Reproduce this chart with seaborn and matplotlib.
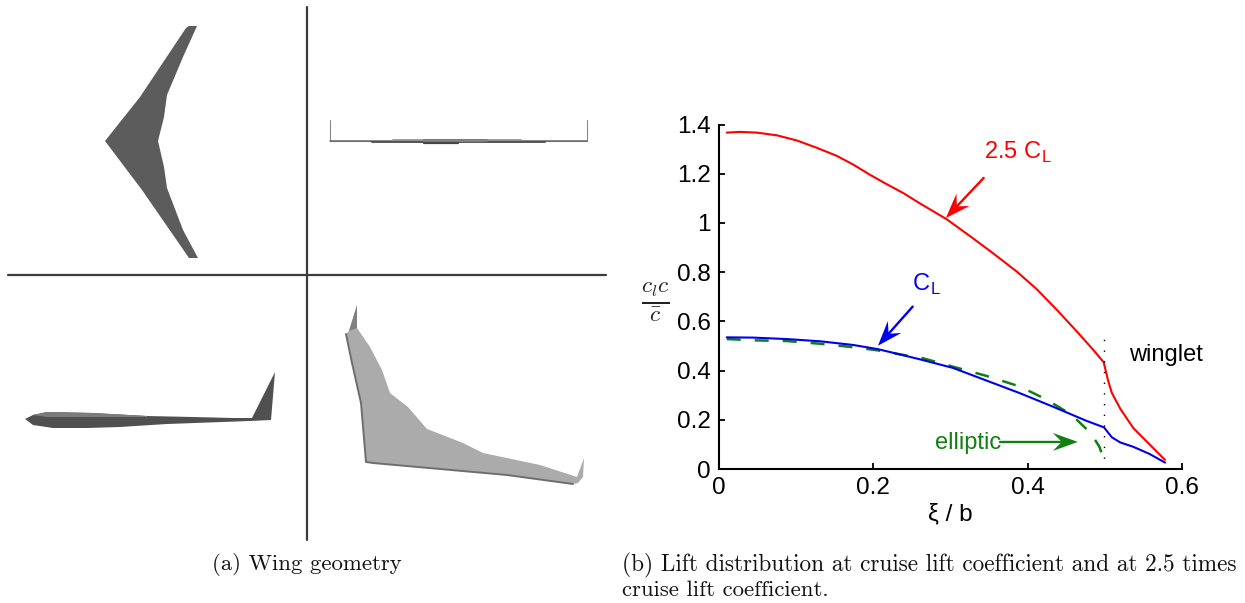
"""Wing geometry views and lift distribution along the span."""
import matplotlib
matplotlib.use("Agg")
import matplotlib.pyplot as plt
from matplotlib.transforms import IdentityTransform
import numpy as np
import pandas as pd
import seaborn as sns

W, H = 1245, 603

# lift distribution
xi_high = [0.010, 0.027, 0.049, 0.075, 0.101, 0.127, 0.153, 0.174, 0.196, 0.217, 0.239,
           0.260, 0.295, 0.325, 0.355, 0.386, 0.412, 0.438, 0.464, 0.485, 0.4985,
           0.504, 0.509, 0.520, 0.537, 0.578]
cl_high = [1.367, 1.370, 1.367, 1.356, 1.335, 1.305, 1.272, 1.237, 1.195, 1.158, 1.121,
           1.080, 1.015, 0.947, 0.877, 0.802, 0.730, 0.646, 0.558, 0.484, 0.434,
           0.362, 0.310, 0.245, 0.166, 0.037]
xi_cruise = [0.010, 0.044, 0.088, 0.131, 0.174, 0.206, 0.230, 0.260, 0.303, 0.347,
             0.390, 0.433, 0.476, 0.499, 0.509, 0.520, 0.537, 0.558, 0.578]
cl_cruise = [0.535, 0.534, 0.528, 0.519, 0.504, 0.487, 0.469, 0.446, 0.411, 0.359,
             0.308, 0.253, 0.196, 0.169, 0.129, 0.108, 0.090, 0.061, 0.026]
xi_ellip = [0.010, 0.044, 0.088, 0.131, 0.174, 0.206, 0.247, 0.260, 0.303, 0.347,
            0.390, 0.424, 0.457, 0.482, 0.493, 0.4985]
cl_ellip = [0.528, 0.523, 0.520, 0.509, 0.495, 0.482, 0.459, 0.454, 0.416, 0.378,
            0.335, 0.283, 0.220, 0.145, 0.090, 0.039]
xi_winglet = [0.4985, 0.4985]
cl_winglet = [0.0, 0.565]

x_ticks = [0, 0.2, 0.4, 0.6]
y_ticks = [0, 0.2, 0.4, 0.6, 0.8, 1, 1.2, 1.4]
tick_names_x = ["0", "0.2", "0.4", "0.6"]
tick_names_y = ["0", "0.2", "0.4", "0.6", "0.8", "1", "1.2", "1.4"]

# wing outlines, in picture pixels
plan_x = [105, 140, 186, 189, 197, 183, 167, 164, 158, 164, 167, 183, 198, 189, 142]
plan_y = [141, 97, 28, 26, 26, 57, 95, 117, 141, 167, 188, 230, 258, 258, 190]
side_x = [25, 33, 47, 93, 147, 193, 233, 252, 275, 271, 250, 167, 120, 87, 53, 33]
side_y = [419, 415, 412, 413, 416, 417, 418, 418, 372, 420, 421, 424, 427, 428, 428, 425]
side_top_x = [33, 47, 93, 147, 147, 93, 47]
side_top_y = [415, 412, 413, 416, 417, 417, 417]
iso_x = [357, 349, 346, 352, 361, 366, 373, 440, 507, 573, 578, 583, 584, 577, 540,
         483, 463, 427, 408, 390, 382, 370, 357]
iso_y = [305, 331, 334, 363, 403, 462, 463, 469, 475, 484, 483, 477, 458, 477, 465,
         453, 443, 429, 407, 393, 370, 347, 328]
iso_tip_x = [357, 349, 357]
iso_tip_y = [305, 331, 328]
iso_edge_x = [346, 352, 361, 366, 373, 440, 507, 573]
iso_edge_y = [334, 363, 403, 462, 463, 469, 475, 484]
front_x = [330, 330, 587, 587]
front_y = [120, 141, 141, 120]


def swept_arrow(ax, tip, tail, color):
    """Line with a swept-back head, sized in pixels like the original."""
    tip_px = ax.transData.transform(tip)
    tail_px = ax.transData.transform(tail)
    along = (tail_px - tip_px) / np.linalg.norm(tail_px - tip_px)
    across = np.array([-along[1], along[0]])
    notch = tip_px + along * 16
    head = [tip_px, tip_px + along * 25 + across * 9, notch, tip_px + along * 25 - across * 9]
    xs, ys = zip(*head)
    ax.fill(xs, ys, color=color, lw=0, transform=IdentityTransform(), zorder=4)
    ax.plot([notch[0], tail_px[0]], [notch[1], tail_px[1]], color=color, lw=1.7,
            transform=IdentityTransform(), zorder=4)


sns.set_theme(style="ticks")
plt.rcParams["font.family"] = ["Liberation Sans", "DejaVu Sans"]
plt.rcParams["mathtext.fontset"] = "cm"

fig = plt.figure(figsize=(W / 100, H / 100), dpi=100, facecolor="white")

# left panel drawn in pixel coordinates
geo = fig.add_axes([0, 0, 1, 1])
geo.set_xlim(0, W)
geo.set_ylim(H, 0)
geo.axis("off")

geo.plot([307, 307], [7, 540], color="#3c3c3c", lw=1.6)
geo.plot([8, 606], [275, 275], color="#3c3c3c", lw=1.6)

geo.fill(plan_x, plan_y, color="#5c5c5c", lw=0)
geo.fill(side_x, side_y, color="#505050", lw=0)
geo.fill(side_top_x, side_top_y, color="#7c7c7c", lw=0)
geo.fill(iso_x, iso_y, color="#ababab", lw=0)
geo.fill(iso_tip_x, iso_tip_y, color="#808080", lw=0)
geo.plot(iso_edge_x, iso_edge_y, color="#6e6e6e", lw=1.4)
geo.plot(front_x, front_y, color="#8a8a8a", lw=0.8)
geo.plot(front_x[1:3], front_y[1:3], color="#666666", lw=1.1)
geo.plot([372, 545], [142, 142], color="#555555", lw=1.4)
geo.plot([393, 521], [140, 140], color="#909090", lw=1.2)
geo.plot([424, 486], [139.5, 139.5], color="#808080", lw=2.2)
geo.plot([424, 458], [143, 143], color="#444444", lw=1.6)

caption = dict(family="cmr10", va="center", color="#111111")
geo.text(307, 565, "(a) Wing geometry", ha="center", fontsize=16.4, **caption)
geo.text(622, 565, "(b) Lift distribution at cruise lift coefficient and at 2.5 times",
         ha="left", fontsize=16.75, **caption)
geo.text(622, 590, "cruise lift coefficient.", ha="left", fontsize=16.4, **caption)

# lift distribution chart
ax = fig.add_axes([719 / W, (H - 469) / H, 463 / W, 344.5 / H])
ax.patch.set_alpha(0)

high = pd.DataFrame({"xi": xi_high, "cl": cl_high})
cruise = pd.DataFrame({"xi": xi_cruise, "cl": cl_cruise})
ellip = pd.DataFrame({"xi": xi_ellip, "cl": cl_ellip})

sns.lineplot(data=ellip, x="xi", y="cl", color="#108010", lw=1.8, dashes=(5.6, 5.6),
             sort=False, ax=ax)
sns.lineplot(data=high, x="xi", y="cl", color="#ff0000", lw=1.5, sort=False, ax=ax,
             solid_joinstyle="round")
sns.lineplot(data=cruise, x="xi", y="cl", color="#0000ee", lw=1.5, sort=False, ax=ax,
             solid_joinstyle="round")
ax.plot(xi_winglet, cl_winglet, color="black", lw=1.0, ls=(0, (1, 6.7)))

ax.set_xlim(0, 0.6)
ax.set_ylim(0, 1.4)
ax.set_xticks(x_ticks, tick_names_x)
ax.set_yticks(y_ticks, tick_names_y)
ax.tick_params(direction="in", length=4, width=1.3, labelsize=17.5, colors="black", pad=6)
sns.despine(ax=ax)
for side in ("left", "bottom"):
    ax.spines[side].set_linewidth(1.5)
    ax.spines[side].set_color("black")

ax.set_xlabel("ξ / b", fontsize=17.5, labelpad=3, color="black")
ax.set_ylabel("")
ax.text(-0.082, 0.675, r"$\frac{c_l c}{\bar{c}}$", fontsize=24, ha="center", va="center",
        color="#222222")

swept_arrow(ax, (0.294, 1.02), (0.343, 1.183), "#ff0000")
swept_arrow(ax, (0.206, 0.501), (0.251, 0.66), "#0000ee")
swept_arrow(ax, (0.465, 0.11), (0.364, 0.11), "#108010")

ax.text(0.343, 1.285, r"2.5 C$_{\mathregular{L}}$", color="#ff0000", fontsize=17,
        ha="left", va="center")
ax.text(0.2495, 0.75, r"C$_{\mathregular{L}}$", color="#0000ee", fontsize=17,
        ha="left", va="center")
ax.text(0.28, 0.105, "elliptic", color="#108010", fontsize=17, ha="left", va="center")
ax.text(0.532, 0.463, "winglet", color="black", fontsize=17, ha="left", va="center")

fig.savefig("out.png", dpi=100)
